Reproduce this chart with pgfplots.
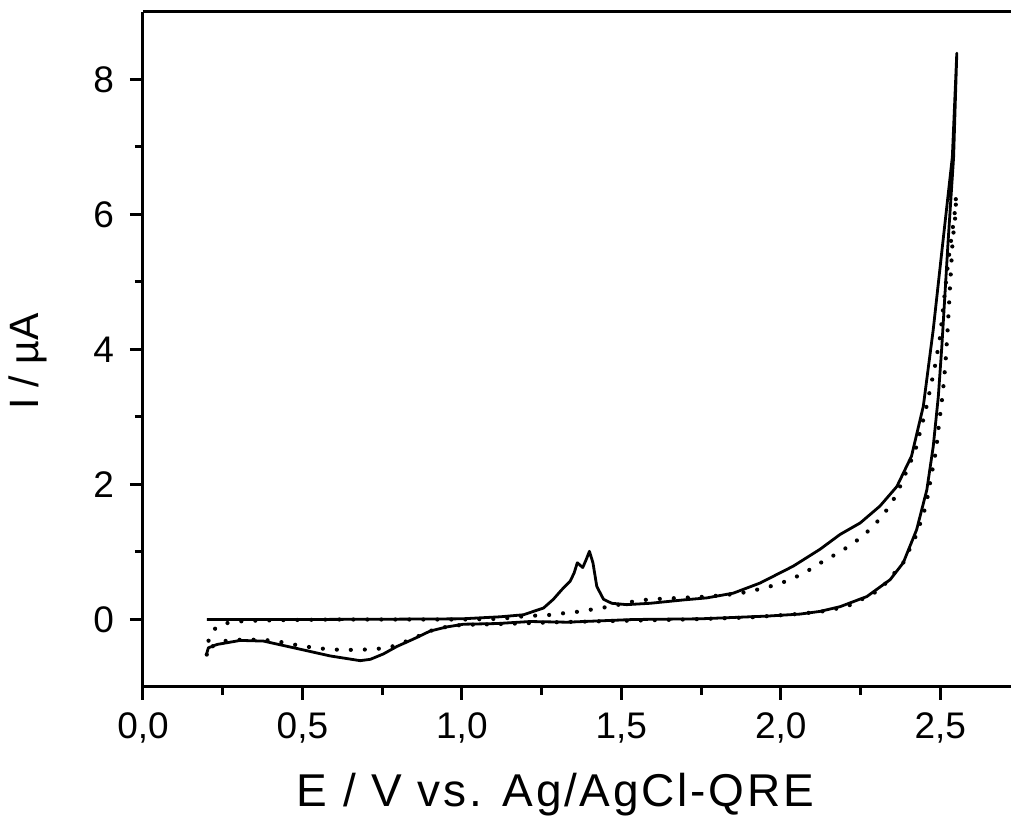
\documentclass[border=0pt]{standalone}
\usepackage{fontspec}
\setmainfont{Liberation Sans}
\usepackage{pgfplots}
\pgfplotsset{compat=1.18}
\begin{document}
\begin{tikzpicture}
\begin{axis}[
  at={(0pt,0pt)}, anchor=south west,
  scale only axis, width=434pt, height=337.5pt,
  xmin=0, xmax=2.722, ymin=-1, ymax=9,
  axis x line*=bottom, axis y line*=left,
  axis line style={-, line width=1.5pt},
  tick align=outside, major tick length=6.5pt, minor tick length=4pt,
  every tick/.style={black, line width=1.5pt},
  xtick={0,0.5,1,1.5,2,2.5}, ytick={0,2,4,6,8},
  minor x tick num=1, minor y tick num=1,
  tick label style={font=\fontsize{18.5}{22}\selectfont},
  /pgf/number format/assume math mode=true,
  xticklabel style={yshift=-3pt, /pgf/number format/.cd, fixed, fixed zerofill, precision=1, use comma},
  yticklabel style={xshift=-4.5pt},
  xlabel={E / V vs. Ag/AgCl-QRE}, ylabel={I / µA},
  xlabel style={font=\fontsize{23}{27}\selectfont\addfontfeature{LetterSpace=6}, at={(rel axis cs:0.4752,0)}, anchor=center, yshift=-54pt},
  ylabel style={font=\fontsize{20.5}{24}\selectfont, at={(rel axis cs:-0.1325,0.482)}, anchor=center},
  after end axis/.code={\draw[line width=1.5pt] (rel axis cs:0,1) -- (rel axis cs:1,1);},
]
% solid curve
\addplot[black, line width=1.4pt, line join=round] coordinates {
(0.2,0.0) (0.5,0.0) (0.8,0.005) (1.0,0.01) (1.12,0.04) (1.193,0.07) (1.256,0.17) (1.287,0.30) (1.313,0.44) (1.34,0.57) (1.352,0.69) (1.362,0.84) (1.379,0.77) (1.39,0.89) (1.40,1.01) (1.411,0.84) (1.423,0.49) (1.444,0.30) (1.47,0.24) (1.517,0.22) (1.59,0.24) (1.695,0.29) (1.768,0.32) (1.851,0.39) (1.935,0.54) (2.039,0.79) (2.123,1.04) (2.186,1.26) (2.249,1.43) (2.311,1.68) (2.364,1.97) (2.41,2.42) (2.447,3.16) (2.478,4.29) (2.509,5.62) (2.538,6.85) (2.552,8.39)
(2.542,6.85) (2.525,5.62) (2.505,4.04) (2.494,3.30) (2.478,2.56) (2.458,1.92) (2.426,1.33) (2.384,0.84) (2.343,0.59) (2.27,0.34) (2.186,0.19) (2.123,0.12) (2.06,0.08) (1.956,0.05) (1.747,0.01) (1.538,0.0) (1.329,-0.04) (1.214,-0.03) (1.11,-0.06) (1.005,-0.07) (0.953,-0.11) (0.901,-0.17) (0.848,-0.29) (0.796,-0.40) (0.754,-0.51) (0.713,-0.59) (0.681,-0.61) (0.587,-0.54) (0.483,-0.43) (0.378,-0.32) (0.305,-0.31) (0.232,-0.37) (0.205,-0.42) (0.2,-0.5)
};
% dotted curve
\addplot[black, line width=2.1pt, line cap=round, dash pattern=on 0pt off 7pt] coordinates {
(0.2,-0.52) (0.203,-0.40) (0.206,-0.30) (0.216,-0.18) (0.237,-0.09) (0.274,-0.04) (0.326,-0.02) (0.43,-0.01) (0.6,0.0) (1.0,0.0) (1.12,0.01) (1.198,0.05) (1.287,0.07) (1.329,0.10) (1.376,0.12) (1.42,0.16) (1.463,0.19) (1.551,0.28) (1.596,0.30) (1.64,0.31) (1.684,0.32) (1.728,0.33) (1.773,0.34) (1.862,0.38) (1.906,0.42) (1.951,0.47) (1.996,0.53) (2.039,0.61) (2.081,0.71) (2.125,0.84) (2.17,0.96) (2.212,1.08) (2.259,1.24) (2.301,1.44) (2.337,1.65) (2.364,1.86) (2.421,2.49) (2.455,3.11) (2.483,3.74) (2.499,4.17) (2.525,5.3) (2.545,6.0) (2.55,6.29)
(2.548,6.0) (2.539,5.62) (2.522,4.19) (2.516,3.77) (2.508,3.35) (2.497,2.93) (2.487,2.51) (2.471,2.10) (2.455,1.68) (2.426,1.26) (2.384,0.84) (2.311,0.44) (2.222,0.22) (2.15,0.13) (2.05,0.08) (1.9,0.03) (1.7,0.0) (1.5,-0.02) (1.3,-0.04) (1.1,-0.07) (1.0,-0.08) (0.95,-0.11) (0.9,-0.17) (0.848,-0.28) (0.796,-0.38) (0.765,-0.42) (0.723,-0.44) (0.671,-0.45) (0.618,-0.45) (0.556,-0.43) (0.493,-0.39) (0.441,-0.34) (0.378,-0.30) (0.305,-0.30) (0.253,-0.32) (0.232,-0.36) (0.21,-0.42) (0.2,-0.52)
};
\end{axis}
\pgfresetboundingbox
\path[use as bounding box] (-71.5pt,-65pt) rectangle (434pt,343.5pt);
\end{tikzpicture}
\end{document}
